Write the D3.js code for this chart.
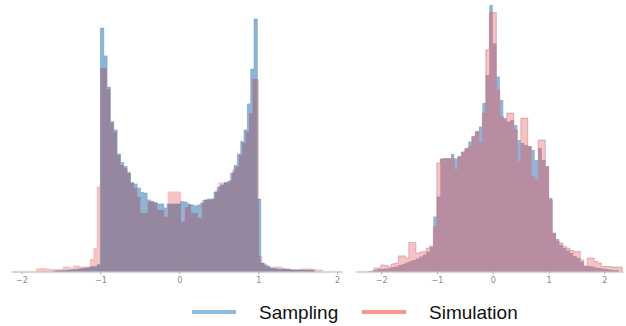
<!DOCTYPE html>
<html>
<head>
<meta charset="utf-8">
<script src="https://cdn.jsdelivr.net/npm/d3@7"></script>
<style>
  body { margin: 0; background: #fff; }
  svg { display: block; }
  .tick text { font-family: "DejaVu Sans", sans-serif; font-size: 8px; fill: #8a8a8a; }
  .tick line, .domain { stroke: #b0b0b0; }
  .legend text { font-family: "Liberation Sans", Arial, sans-serif; font-size: 19px; fill: #111; }
</style>
</head>
<body>
<svg width="626" height="326"></svg>
<script>
// **** Data: histogram densities ****

// left panel, sampling (blue)
var leftSamplingStart = -1.5926, leftSamplingWidth = 0.04233;
var leftSampling = [
  0.003, 0.004, 0.005, 0.005, 0.007, 0.009, 0.010, 0.012, 0.015, 0.017, 0.020, 0.025, 0.025, 0.034,
  1.217, 1.078, 0.922, 0.750, 0.708, 0.588, 0.545, 0.525, 0.492, 0.445,
  0.438, 0.417, 0.395, 0.392, 0.358, 0.350, 0.345, 0.338, 0.338, 0.317,
  0.338, 0.338, 0.338, 0.338, 0.350, 0.347, 0.338, 0.333, 0.328, 0.333,
  0.342, 0.358, 0.363, 0.363, 0.397, 0.422, 0.433, 0.445, 0.450, 0.492,
  0.530, 0.587, 0.650, 0.708, 0.838, 1.012, 1.262, 0.362,
  0.042, 0.033, 0.025, 0.017, 0.015, 0.012, 0.012, 0.012, 0.012, 0.008, 0.008, 0.008, 0.008, 0.007, 0.007, 0.007
];

// left panel, simulation (red)
var leftSimulationStart = -1.8183, leftSimulationWidth = 0.04285;
var leftSimulation = [
  0.015, 0.017, 0.017, 0.015, 0.012, 0.012, 0.012, 0.012, 0.025, 0.025, 0.020, 0.030, 0.030, 0.025, 0.025, 0.025, 0.062, 0.117,
  0.425, 1.017, 1.017, 0.912, 0.742, 0.700, 0.583, 0.533, 0.517, 0.500,
  0.442, 0.417, 0.375, 0.292, 0.292, 0.350, 0.350, 0.342, 0.308, 0.308,
  0.275, 0.400, 0.400, 0.400, 0.400, 0.250, 0.322, 0.333, 0.292, 0.292,
  0.267, 0.358, 0.358, 0.358, 0.363, 0.405, 0.445, 0.445, 0.442, 0.458,
  0.508, 0.525, 0.583, 0.642, 0.700, 0.792, 0.963, 0.963,
  0.078, 0.042, 0.025, 0.017, 0.025, 0.025, 0.025, 0.017, 0.012, 0.012, 0.012, 0.012,
  0.015, 0.015, 0.015, 0.015, 0.012, 0.010, 0.010
];

// right panel, sampling (blue)
var rightSamplingStart = -2.2554, rightSamplingWidth = 0.0627;
var rightSampling = [
  0.003, 0.005, 0.008, 0.012, 0.012, 0.015, 0.018, 0.022, 0.025, 0.032, 0.038, 0.045, 0.052, 0.058,
  0.065, 0.075, 0.085, 0.100, 0.122, 0.275, 0.375, 0.565, 0.565, 0.565, 0.588, 0.565, 0.575, 0.600,
  0.617, 0.650, 0.675, 0.700, 0.725, 0.842, 0.983, 1.332, 1.140, 0.975, 0.858, 0.767, 0.750, 0.758,
  0.733, 0.658, 0.642, 0.633, 0.625, 0.608, 0.558, 0.617, 0.558, 0.525, 0.367, 0.192, 0.162, 0.133,
  0.117, 0.105, 0.092, 0.078, 0.067, 0.050, 0.030, 0.028, 0.025, 0.020, 0.017, 0.015, 0.012, 0.010,
  0.008, 0.007
];

// right panel, simulation (red)
var rightSimulationStart = -2.1300, rightSimulationWidth = 0.0627;
var rightSimulation = [
  0.017, 0.017, 0.033, 0.030, 0.025, 0.038, 0.042, 0.078, 0.078, 0.067, 0.145, 0.145, 0.092, 0.097,
  0.100, 0.117, 0.128, 0.225, 0.542, 0.562, 0.565, 0.565, 0.565, 0.508, 0.575, 0.595, 0.612, 0.625,
  0.675, 0.700, 0.642, 0.792, 1.108, 1.295, 1.295, 0.908, 0.775, 0.758, 0.792, 0.792, 0.708, 0.550,
  0.767, 0.767, 0.625, 0.475, 0.458, 0.658, 0.658, 0.525, 0.358, 0.192, 0.150, 0.142, 0.125, 0.117,
  0.105, 0.100, 0.100, 0.058, 0.025, 0.067, 0.067, 0.050, 0.042, 0.025, 0.025, 0.025, 0.022, 0.022,
  0.022
];

var xTicks = [-2, -1, 0, 1, 2];
var legendLabels = ["Sampling", "Simulation"];

// **** Scales, colours ****

var svg = d3.select("svg");
var baseY = 271.5;

var yScale = d3.scaleLinear().domain([0, 1.3575]).range([baseY, 0]);

var blueFill = "#8db5d9", pinkFill = "#f9c2c0";

var panels = [
  { x: d3.scaleLinear().domain([-2.133, 2.062]).range([11, 342]),
    blue: { start: leftSamplingStart, width: leftSamplingWidth, values: leftSampling },
    red: { start: leftSimulationStart, width: leftSimulationWidth, values: leftSimulation },
    overlap: "#95879f", top: "blue", outline: "#6a93bd" },
  { x: d3.scaleLinear().domain([-2.45, 2.335]).range([356, 623]),
    blue: { start: rightSamplingStart, width: rightSamplingWidth, values: rightSampling },
    red: { start: rightSimulationStart, width: rightSimulationWidth, values: rightSimulation },
    overlap: "#b88ca1", top: "red", outline: "#b07f98" }
];

function edges(s) {
  return d3.range(s.values.length + 1).map(function(i) { return s.start + i * s.width; });
}

function valueAt(s, x) {
  var i = Math.floor((x - s.start) / s.width);
  return (i >= 0 && i < s.values.length) ? s.values[i] : 0;
}

function stepPoints(s) {
  var pts = s.values.map(function(v, i) { return [s.start + i * s.width, v]; });
  pts.push([s.start + s.values.length * s.width, 0]);
  return pts;
}

// points of min(blue, red) over the merged bin edges
function overlapPoints(a, b) {
  var all = edges(a).concat(edges(b)).sort(d3.ascending);
  var pts = [];
  for (var i = 0; i < all.length - 1; i++) {
    if (all[i + 1] - all[i] < 1e-9) continue;
    var mid = (all[i] + all[i + 1]) / 2;
    pts.push([all[i], Math.min(valueAt(a, mid), valueAt(b, mid))]);
  }
  pts.push([all[all.length - 1], 0]);
  return pts;
}

// **** Panels ****

panels.forEach(function(p) {
  var g = svg.append("g");

  var area = d3.area()
    .curve(d3.curveStepAfter)
    .x(function(d) { return p.x(d[0]); })
    .y0(baseY)
    .y1(function(d) { return yScale(d[1]); });

  var line = d3.line()
    .curve(d3.curveStepAfter)
    .x(function(d) { return p.x(d[0]); })
    .y(function(d) { return yScale(d[1]); });

  g.append("path").attr("d", area(stepPoints(p.blue))).attr("fill", blueFill);
  g.append("path").attr("d", area(stepPoints(p.red))).attr("fill", pinkFill);
  g.append("path").attr("d", area(overlapPoints(p.blue, p.red))).attr("fill", p.overlap);

  var topPts = stepPoints(p[p.top]);
  topPts.unshift([topPts[0][0], 0]);
  g.append("path").attr("d", line(topPts))
    .attr("fill", "none")
    .attr("stroke", p.outline)
    .attr("stroke-width", 0.7)
    .attr("stroke-opacity", 0.7);

  g.append("g")
    .attr("transform", "translate(0," + baseY + ")")
    .call(d3.axisBottom(p.x).tickValues(xTicks).tickFormat(d3.format("d"))
      .tickSize(3).tickSizeOuter(0).tickPadding(3))
    .call(function(ax) { ax.select(".domain").attr("stroke-width", 1); });
});

// **** Legend ****

var legend = svg.append("g").attr("class", "legend");
var legendColors = ["#8cb9dc", "#fa968c"];
var legendX = [192, 362];

legendLabels.forEach(function(name, i) {
  legend.append("line")
    .attr("x1", legendX[i]).attr("x2", legendX[i] + 44)
    .attr("y1", 312).attr("y2", 312)
    .attr("stroke", legendColors[i])
    .attr("stroke-width", 4);
  legend.append("text")
    .attr("x", legendX[i] + 67)
    .attr("y", 318.5)
    .text(name);
});
</script>
</body>
</html>
